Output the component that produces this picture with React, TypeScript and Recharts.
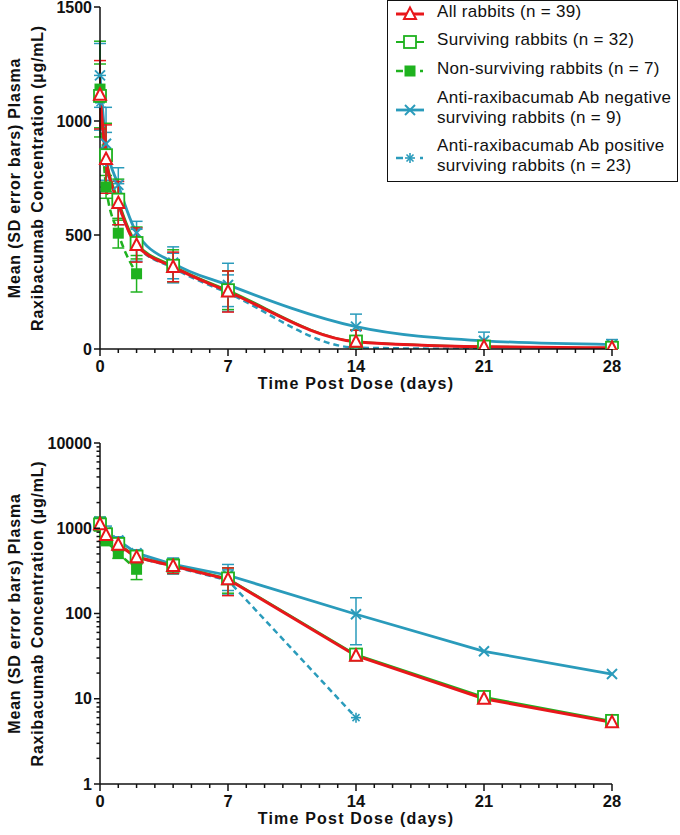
// Raxibacumab PK in rabbits: mean (SD) plasma concentration, linear + log panels
import React from 'react';
import { ErrorBar, Label, Line, LineChart, XAxis, YAxis } from 'recharts';

const FONT = '"Liberation Sans", Arial, sans-serif';
const RED = '#e8171b';
const GREEN = '#1fb21f';
const TEAL = '#2a9bbb';

// time points (days)
const days = [0, 0.33, 1, 2, 4, 7, 14, 21, 28];
const nonSurvDays = [0, 0.33, 1, 2];
const posDays = [0, 0.33, 1, 2, 4, 7, 14, 21];

// all rabbits (n = 39)
const allMean = [1115, 833, 640, 456, 360, 252, 32, 10, 5.3];
const allSd = [150, 150, 95, 75, 65, 90, 50, 12, 6];
// surviving rabbits (n = 32)
const survMean = [1110, 850, 655, 465, 365, 258, 33, 10.5, 5.5];
const survSd = [140, 140, 90, 70, 70, 85, 50, 12, 6];
// non-surviving rabbits (n = 7)
const nonSurvMean = [1140, 711, 508, 330];
const nonSurvSd = [210, 50, 65, 80];
// anti-raxibacumab Ab negative surviving (n = 9)
const negMean = [1200, 900, 720, 510, 378, 281, 98, 36, 19.5];
const negSd = [140, 160, 75, 50, 70, 95, 55, 38, 22];
// anti-raxibacumab Ab positive surviving (n = 23)
const posMean = [1080, 820, 635, 455, 355, 245, 6, 0];
const posSd = [120, 130, 90, 70, 65, 80, 8, 0];

// axis ticks
const xLabels = [0, 7, 14, 21, 28];
const xTicks = Array.from({ length: 29 }, (_, i) => i);
const linTicks = [0, 500, 1000, 1500];
const logLabels = [1, 10, 100, 1000, 10000];
const logTicks = logLabels.flatMap((d) =>
  d === 10000 ? [d] : [1, 2, 3, 4, 5, 6, 7, 8, 9].map((k) => k * d),
);

type Shape = 'triangle' | 'square' | 'filled' | 'cross' | 'star';

const series = [
  { key: 'pos', label: ['Anti-raxibacumab Ab positive', 'surviving rabbits (n = 23)'], x: posDays, mean: posMean, sd: posSd, color: TEAL, width: 2.5, dash: '6 4', shape: 'star' as Shape },
  { key: 'neg', label: ['Anti-raxibacumab Ab negative', 'surviving rabbits (n = 9)'], x: days, mean: negMean, sd: negSd, color: TEAL, width: 2.8, dash: undefined, shape: 'cross' as Shape },
  { key: 'non', label: ['Non-surviving rabbits (n = 7)'], x: nonSurvDays, mean: nonSurvMean, sd: nonSurvSd, color: GREEN, width: 2.5, dash: '7 4', shape: 'filled' as Shape },
  { key: 'surv', label: ['Surviving rabbits (n = 32)'], x: days, mean: survMean, sd: survSd, color: GREEN, width: 2, dash: undefined, shape: 'square' as Shape },
  { key: 'all', label: ['All rabbits (n = 39)'], x: days, mean: allMean, sd: allSd, color: RED, width: 3, dash: undefined, shape: 'triangle' as Shape },
];
const legendOrder = ['all', 'surv', 'non', 'neg', 'pos'];

function Marker({ cx, cy, shape, color }: { cx: number; cy: number; shape: Shape; color: string }) {
  if (cx == null || cy == null || !isFinite(cy)) return <g />;
  switch (shape) {
    case 'triangle':
      return <polygon points={`${cx},${cy - 6.5} ${cx + 6},${cy + 5} ${cx - 6},${cy + 5}`} fill="#fff" stroke={color} strokeWidth={2} />;
    case 'square':
      return <rect x={cx - 6} y={cy - 6} width={12} height={12} fill="#fff" stroke={color} strokeWidth={1.8} />;
    case 'filled':
      return <rect x={cx - 5.5} y={cy - 5.5} width={11} height={11} fill={color} />;
    case 'cross':
      return (
        <g stroke={color} strokeWidth={2}>
          <line x1={cx - 5} y1={cy - 5} x2={cx + 5} y2={cy + 5} />
          <line x1={cx - 5} y1={cy + 5} x2={cx + 5} y2={cy - 5} />
        </g>
      );
    default:
      return (
        <g stroke={color} strokeWidth={1.6}>
          <line x1={cx} y1={cy - 5} x2={cx} y2={cy + 5} />
          <line x1={cx - 5} y1={cy} x2={cx + 5} y2={cy} />
          <line x1={cx - 3.5} y1={cy - 3.5} x2={cx + 3.5} y2={cy + 3.5} />
          <line x1={cx - 3.5} y1={cy + 3.5} x2={cx + 3.5} y2={cy - 3.5} />
        </g>
      );
  }
}

function XTick(props: any) {
  const { x, y, payload } = props;
  const major = xLabels.includes(payload.value);
  return (
    <g>
      <line x1={x} x2={x} y1={y} y2={y + (major ? 7 : 4)} stroke="#111" strokeWidth={1.5} />
      {major && (
        <text x={x} y={y + 23} textAnchor="middle" fontFamily={FONT} fontWeight="bold" fontSize={16.5} fill="#111">
          {payload.value}
        </text>
      )}
    </g>
  );
}

function makeYTick(labels: number[]) {
  return (props: any) => {
    const { x, y, payload } = props;
    const major = labels.includes(payload.value);
    return (
      <g>
        <line x1={x} x2={x - (major ? 6 : 3.5)} y1={y} y2={y} stroke="#111" strokeWidth={1.5} />
        {major && (
          <text x={x - 8} y={y + 5.5} textAnchor="end" fontFamily={FONT} fontWeight="bold" fontSize={16} fill="#111">
            {payload.value}
          </text>
        )}
      </g>
    );
  };
}

const titleStyle = { fontFamily: FONT, fontWeight: 'bold' as const, fontSize: 16, letterSpacing: 0.8, fill: '#111' };

function YTitle(props: any) {
  const { viewBox } = props;
  const cy = viewBox.y + viewBox.height / 2;
  return (
    <g>
      <text transform={`translate(20, ${cy}) rotate(-90)`} textAnchor="middle" {...titleStyle}>
        Mean (SD error bars) Plasma
      </text>
      <text transform={`translate(43, ${cy}) rotate(-90)`} textAnchor="middle" {...titleStyle}>
        Raxibacumab Concentration (µg/mL)
      </text>
    </g>
  );
}

function XTitle(props: any) {
  const { viewBox } = props;
  return (
    <text x={viewBox.x + viewBox.width / 2} y={viewBox.y + 40} textAnchor="middle" {...titleStyle} letterSpacing={1.2}>
      Time Post Dose (days)
    </text>
  );
}

function rowsFor(s: (typeof series)[number], log: boolean) {
  return s.x.map((x, i) => {
    const m = s.mean[i];
    const e = s.sd[i];
    if (log) {
      return { x, y: m > 0 ? m : null, err: m > 0 && m - e > 0 ? e : null };
    }
    return { x, y: m, err: e > 0 ? [Math.min(e, m), e] : null };
  });
}

function PkChart({ log, top, height }: { log: boolean; top: number; height: number }) {
  const axis = { stroke: '#111', strokeWidth: 1.5 };
  return (
    <div style={{ position: 'absolute', left: 0, top }}>
      <LineChart width={680} height={height} margin={{ top: log ? 23 : 7, right: 68, left: 40, bottom: 0 }}>
        <XAxis
          dataKey="x"
          type="number"
          domain={[0, 28]}
          ticks={xTicks}
          interval={0}
          tickSize={0}
          tickMargin={0}
          tick={<XTick />}
          axisLine={axis}
          height={51}
        >
          <Label content={<XTitle />} />
        </XAxis>
        <YAxis
          type="number"
          scale={log ? 'log' : 'linear'}
          domain={log ? [1, 10000] : [0, 1500]}
          ticks={log ? logTicks : linTicks}
          interval={0}
          tickSize={0}
          tickMargin={0}
          tick={makeYTick(log ? logLabels : linTicks)}
          axisLine={axis}
          width={60}
          allowDataOverflow
        >
          <Label content={<YTitle />} />
        </YAxis>
        {series.map((s) => (
          <Line
            key={s.key}
            data={rowsFor(s, log)}
            dataKey="y"
            type={log ? 'linear' : 'monotone'}
            stroke={s.color}
            strokeWidth={s.width}
            strokeDasharray={s.dash}
            activeDot={false}
            isAnimationActive={false}
            dot={(p: any) => <Marker key={`${s.key}-${p.index}`} cx={p.cx} cy={p.cy} shape={s.shape} color={s.color} />}
          >
            <ErrorBar dataKey="err" direction="y" width={6} strokeWidth={1.5} stroke={s.color} isAnimationActive={false} />
          </Line>
        ))}
      </LineChart>
    </div>
  );
}

function LegendBox() {
  const rows = [
    { key: 'all', cy: 13 },
    { key: 'surv', cy: 41 },
    { key: 'non', cy: 70 },
    { key: 'neg', cy: 109 },
    { key: 'pos', cy: 157 },
  ];
  return (
    <div
      style={{
        position: 'absolute',
        left: 387,
        top: 0,
        width: 291,
        height: 182,
        border: '1.5px solid #111',
        boxSizing: 'border-box',
        background: '#fff',
      }}
    >
      {legendOrder.map((k) => {
        const s = series.find((d) => d.key === k)!;
        const cy = rows.find((r) => r.key === k)!.cy;
        const dashed = !!s.dash;
        return (
          <div key={k}>
            <svg style={{ position: 'absolute', left: 6, top: cy - 10 }} width={32} height={20}>
              {dashed ? (
                <g stroke={s.color} strokeWidth={s.width}>
                  <line x1={2} x2={9} y1={10} y2={10} />
                  <line x1={26} x2={29} y1={10} y2={10} />
                </g>
              ) : (
                <line x1={2} x2={30} y1={10} y2={10} stroke={s.color} strokeWidth={s.width} />
              )}
              <Marker cx={16} cy={10} shape={s.shape} color={s.color} />
            </svg>
            <div
              style={{
                position: 'absolute',
                left: 49,
                top: (s.label.length > 1 ? cy - 20 : cy - 10) - 2,
                fontFamily: FONT,
                fontSize: 17,
                letterSpacing: 0.3,
                lineHeight: '20px',
                color: '#111',
                whiteSpace: 'nowrap',
              }}
            >
              {s.label.map((t) => (
                <div key={t}>{t}</div>
              ))}
            </div>
          </div>
        );
      })}
    </div>
  );
}

export default function App() {
  return (
    <div style={{ position: 'absolute', left: 0, top: 0, width: 680, height: 835, background: '#fff', overflow: 'hidden' }}>
      <PkChart log={false} top={0} height={400} />
      <PkChart log top={420} height={415} />
      <LegendBox />
    </div>
  );
}
